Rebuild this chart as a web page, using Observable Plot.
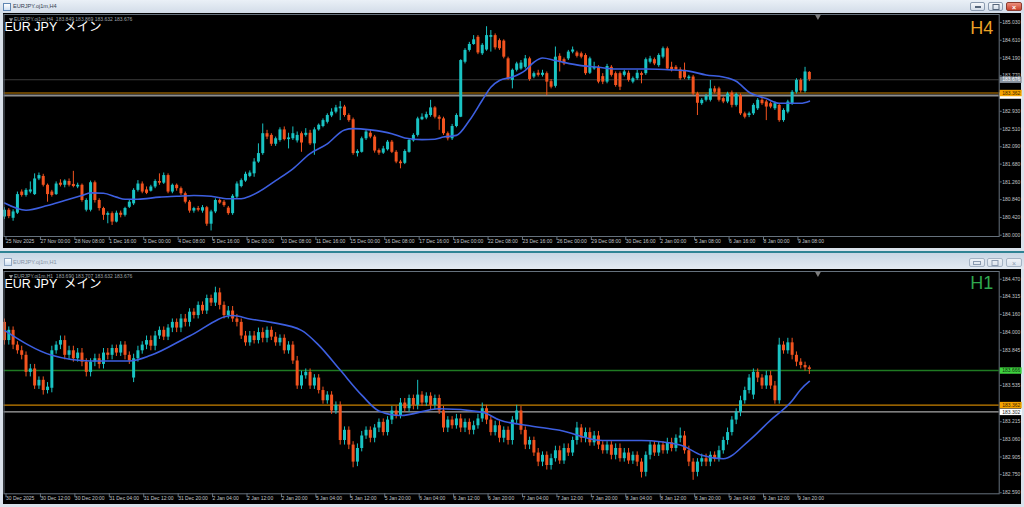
<!DOCTYPE html>
<html><head><meta charset="utf-8">
<script src="https://cdn.jsdelivr.net/npm/d3@7"></script>
<script src="https://cdn.jsdelivr.net/npm/@observablehq/plot@0.6"></script>
<style>
html,body{margin:0;padding:0;}
body{width:1024px;height:507px;overflow:hidden;background:#d9e1ea;position:relative;font-family:"Liberation Sans",Arial,sans-serif;}
.bar{position:absolute;left:0;width:1024px;}
#tb1{top:0;height:13px;background:linear-gradient(#eaf0f7,#d2dce8);}
#tb2{top:253px;height:16px;background:linear-gradient(#c9d6e4,#e3eaf2);}
#sep{position:absolute;left:0;top:251px;width:1024px;height:1.5px;background:#2f8394;}
.ttl{position:absolute;font-family:"Liberation Sans",Arial,sans-serif;font-size:5.6px;white-space:nowrap;}
.ico{position:absolute;width:6px;height:6px;border:1px solid #5f86b3;background:linear-gradient(#ffffff,#cfe0f3);}
.btn{position:absolute;height:9px;box-sizing:border-box;border:1px solid #8b9bb0;border-radius:2px;background:linear-gradient(#f6f8fb,#d3dde9);}
.btn.cl{background:linear-gradient(#ec8f7e,#c9412c);border-color:#8b3b2f;}
.btn.in{border-color:#a5b3c4;background:linear-gradient(#eef2f7,#dae2ec);}
.glyph{position:absolute;left:50%;top:50%;transform:translate(-50%,-50%);}
#c1{position:absolute;left:3px;top:13px;}
#c2{position:absolute;left:3px;top:269px;}
</style></head><body>
<div id="tb1" class="bar">
  <div class="ico" style="left:3px;top:3px;"></div>
  <div class="ttl" style="left:13px;top:3px;color:#34414f;">EURJPY.oj1m,H4</div>
  <div class="btn" style="left:970px;top:2px;width:15px;"><div class="glyph" style="width:6px;height:2px;background:#55657a;"></div></div>
  <div class="btn" style="left:988px;top:2px;width:15px;"><div class="glyph" style="width:5px;height:4px;border:1px solid #55657a;"></div></div>
  <div class="btn cl" style="left:1006px;top:2px;width:16px;"><div class="glyph" style="color:#fff;font-size:7px;font-weight:bold;line-height:7px;">×</div></div>
</div>
<div id="sep"></div>
<div id="tb2" class="bar">
  <div class="ico" style="left:4px;top:5px;border-color:#8fa6c2;"></div>
  <div class="ttl" style="left:13px;top:6px;color:#8593a5;">EURJPY.oj1m,H1</div>
  <div class="btn in" style="left:969px;top:5px;width:16px;"><div class="glyph" style="width:6px;height:2px;border:1px solid #8b9bb0;"></div></div>
  <div class="btn in" style="left:987px;top:5px;width:16px;"><div class="glyph" style="width:5px;height:4px;border:1px solid #8b9bb0;"></div></div>
  <div class="btn in" style="left:1006px;top:5px;width:16px;"><div class="glyph" style="color:#8b9bb0;font-size:7px;line-height:7px;">×</div></div>
</div>
<div id="c1"></div>
<div id="c2"></div>
<script>
// ---------------- DATA ----------------
const h4TimeLabels = ["25 Nov 2025","27 Nov 00:00","28 Nov 08:00","1 Dec 16:00","3 Dec 00:00","4 Dec 08:00","5 Dec 16:00","9 Dec 00:00","10 Dec 08:00","11 Dec 16:00","15 Dec 00:00","16 Dec 08:00","17 Dec 16:00","19 Dec 00:00","22 Dec 08:00","23 Dec 16:00","26 Dec 00:00","29 Dec 08:00","30 Dec 16:00","2 Jan 00:00","5 Jan 08:00","6 Jan 16:00","8 Jan 00:00","9 Jan 08:00"];
const h1TimeLabels = ["30 Dec 2025","30 Dec 12:00","30 Dec 20:00","31 Dec 04:00","31 Dec 12:00","31 Dec 20:00","2 Jan 04:00","2 Jan 12:00","2 Jan 20:00","5 Jan 04:00","5 Jan 12:00","5 Jan 20:00","6 Jan 04:00","6 Jan 12:00","6 Jan 20:00","7 Jan 04:00","7 Jan 12:00","7 Jan 20:00","8 Jan 04:00","8 Jan 12:00","8 Jan 20:00","9 Jan 04:00","9 Jan 12:00","9 Jan 20:00"];
const timeLabelBars = [0,8,16,24,32,40,48,56,64,72,80,88,96,104,112,120,128,136,144,152,160,168,176,184];

const h4PriceTicks = [185.030,184.610,184.190,183.770,182.930,182.510,182.090,181.680,181.260,180.840,180.420,180.000];
const h1PriceTicks = [184.470,184.315,184.160,184.000,183.845,183.535,183.215,183.060,182.905,182.750,182.590];

const h4Header = "EURJPY.oj1m,H4  183.849 183.869 183.632 183.676";
const h1Header = "EURJPY.oj1m,H1  183.690 183.707 183.632 183.676";
const chartTitle = "EUR JPY  メイン";

// levels: bid line, orange line, white line (and green line on H1)
const h4Bid = 183.676, orangeLevel = 183.362, whiteLevel = 183.302, h1GreenLevel = 183.666;
const shiftBar = 189;

// H4 candles [open, high, low, close]
const h4OHLC = [
[180.43,180.65,180.37,180.59],[180.59,180.63,180.39,180.44],[180.40,180.60,180.33,180.55],[180.52,181.02,180.49,180.96],
[181.02,181.07,180.90,180.94],[180.94,181.10,180.90,181.06],[181.02,181.26,180.98,181.07],[180.96,181.45,180.94,181.33],
[181.33,181.47,181.29,181.41],[181.39,181.44,181.14,181.18],[181.18,181.21,180.78,180.96],[181.02,181.06,180.90,180.94],
[180.96,181.26,180.94,181.21],[181.23,181.31,181.14,181.18],[181.18,181.31,181.12,181.28],[181.27,181.33,181.14,181.18],
[181.20,181.51,181.12,181.15],[181.14,181.23,181.10,181.18],[181.18,181.21,180.78,180.82],[180.59,180.86,180.55,180.82],
[180.59,181.28,180.55,181.24],[181.24,181.28,180.76,180.82],[180.82,180.86,180.57,180.63],[180.63,180.66,180.35,180.47],
[180.47,180.55,180.27,180.51],[180.51,180.55,180.23,180.31],[180.31,180.57,180.29,180.52],[180.52,180.57,180.41,180.47],
[180.47,180.66,180.43,180.63],[180.66,180.82,180.63,180.78],[180.74,181.10,180.70,181.06],[181.06,181.29,181.02,181.21],
[181.21,181.26,180.98,181.02],[181.07,181.14,180.96,180.99],[181.04,181.18,181.02,181.14],[181.14,181.31,181.10,181.27],
[181.27,181.45,181.18,181.23],[181.23,181.47,181.20,181.41],[181.41,181.45,180.98,181.02],[181.02,181.21,180.98,181.18],
[181.18,181.21,181.04,181.10],[181.10,181.14,180.94,180.98],[180.98,181.02,180.74,180.78],[180.78,180.82,180.52,180.57],
[180.57,180.66,180.52,180.63],[180.63,180.68,180.55,180.59],[180.57,180.70,180.52,180.65],[180.65,180.68,180.21,180.26],
[180.26,180.59,180.10,180.55],[180.55,180.86,180.51,180.82],[180.82,180.86,180.73,180.76],[180.78,180.82,180.66,180.70],
[180.64,180.68,180.47,180.51],[180.51,180.96,180.47,180.92],[180.90,181.26,180.86,181.21],[181.15,181.33,181.12,181.29],
[181.28,181.49,181.25,181.44],[181.39,181.52,181.36,181.47],[181.45,181.81,181.37,181.73],[181.73,182.16,181.70,181.93],
[181.93,182.63,181.89,182.40],[182.40,182.48,182.26,182.32],[182.36,182.40,182.10,182.15],[182.15,182.32,182.10,182.28],
[182.24,182.54,182.20,182.49],[182.49,182.56,182.23,182.26],[182.26,182.41,182.04,182.30],[182.28,182.56,182.24,182.40],
[182.23,182.44,182.18,182.36],[182.40,182.44,181.96,182.18],[182.36,182.52,182.32,182.41],[182.41,182.48,182.12,182.16],
[182.16,182.54,181.89,182.49],[182.49,182.63,182.46,182.60],[182.57,182.75,182.54,182.71],[182.67,182.87,182.63,182.83],
[182.82,182.99,182.78,182.91],[182.91,183.07,182.87,183.01],[182.99,183.16,182.71,183.03],[183.03,183.07,182.79,182.83],
[182.83,182.87,182.67,182.71],[182.73,182.77,181.89,181.93],[181.93,182.02,181.85,181.98],[181.96,182.32,181.94,182.28],
[182.28,182.49,182.24,182.44],[182.41,182.48,182.28,182.32],[182.32,182.36,181.94,181.99],[182.00,182.04,181.89,181.94],
[181.94,182.10,181.91,182.04],[182.02,182.24,181.99,182.20],[182.20,182.24,181.93,181.96],[181.96,182.00,181.69,181.73],
[181.73,181.77,181.57,181.69],[181.70,182.02,181.67,181.98],[181.96,182.28,181.94,182.24],[182.23,182.40,182.20,182.36],
[182.36,182.79,182.32,182.75],[182.73,182.87,182.71,182.79],[182.77,182.91,182.73,182.85],[182.83,183.19,182.79,183.01],
[183.01,183.04,182.75,182.79],[182.79,182.83,182.48,182.74],[182.75,182.79,182.36,182.40],[182.40,182.44,182.23,182.28],
[182.28,182.62,182.24,182.57],[182.57,182.87,182.54,182.83],[182.79,184.15,182.78,184.13],[184.09,184.41,184.05,184.37],
[184.37,184.56,184.33,184.51],[184.51,184.72,184.49,184.62],[184.68,184.72,184.27,184.31],[184.29,184.53,184.25,184.49],
[184.38,184.93,184.35,184.72],[184.68,184.84,184.33,184.72],[184.72,184.76,184.38,184.43],[184.60,184.64,184.37,184.41],
[184.59,184.62,184.17,184.21],[184.17,184.21,183.66,183.70],[183.66,183.93,183.46,183.90],[183.90,184.09,183.86,184.05],
[183.93,184.13,183.90,184.07],[183.97,184.25,183.93,184.17],[184.17,184.21,183.64,183.68],[183.74,183.86,183.70,183.82],
[183.83,183.90,183.74,183.78],[183.78,183.90,183.74,183.83],[183.82,183.86,183.30,183.62],[183.63,183.68,183.46,183.50],
[183.52,184.45,183.48,184.21],[184.23,184.29,183.86,184.09],[184.15,184.19,184.01,184.05],[184.17,184.37,184.13,184.33],
[184.33,184.45,184.29,184.38],[184.31,184.35,184.19,184.23],[184.29,184.33,184.17,184.21],[184.25,184.29,183.78,183.82],
[183.83,184.21,183.80,184.17],[183.93,184.09,183.90,183.97],[183.97,184.01,183.58,183.62],[183.75,183.82,183.56,183.62],
[183.62,184.04,183.58,183.99],[183.97,184.01,183.74,183.78],[183.82,183.86,183.50,183.54],[183.82,183.86,183.42,183.50],
[183.78,183.90,183.74,183.86],[183.83,183.88,183.62,183.66],[183.62,183.74,183.58,183.70],[183.70,183.90,183.66,183.83],
[183.82,183.86,183.58,183.78],[183.82,184.19,183.78,184.15],[184.09,184.23,184.05,184.17],[184.15,184.19,184.01,184.05],
[184.01,184.29,183.97,184.25],[184.21,184.45,184.17,184.41],[184.41,184.45,183.90,183.93],[183.97,184.09,183.86,183.90],
[183.97,184.01,183.88,183.91],[183.91,183.96,183.66,183.70],[183.90,184.07,183.68,183.72],[183.70,183.78,183.66,183.74],
[183.74,183.78,183.30,183.34],[183.34,183.38,182.83,183.12],[183.11,183.23,183.07,183.19],[183.19,183.33,183.15,183.28],
[183.19,183.66,183.15,183.46],[183.46,183.52,183.34,183.38],[183.46,183.50,183.15,183.19],[183.23,183.27,183.11,183.15],
[183.15,183.38,183.11,183.34],[183.36,183.41,183.01,183.07],[183.07,183.36,183.03,183.33],[183.30,183.34,182.83,182.87],
[182.87,182.91,182.75,182.79],[182.83,182.91,182.78,182.87],[182.87,183.11,182.83,183.07],[182.99,183.23,182.95,183.19],
[183.19,183.23,183.07,183.11],[183.15,183.19,182.71,183.03],[183.11,183.15,182.99,183.03],[182.99,183.15,182.95,183.11],
[183.07,183.11,182.67,182.71],[182.71,182.99,182.67,182.95],[182.91,183.19,182.87,183.15],[183.11,183.42,183.07,183.38],
[183.38,183.70,183.34,183.66],[183.66,183.70,183.36,183.41],[183.40,183.97,183.36,183.86],[183.849,183.869,183.632,183.676]
];

// H4 moving average, read at these bar positions
const h4MaBars = [0,5,10,14,18,20,23,26,28,31,36,40,44,48,52,55,57,59,63,67,71,75,79,81,85,90,93,97,100,102,105,108,111,113,115,118,121,123,125,128,134,138,142,149,155,159,163,167,170,173,177,180,183,185,187];
const h4MaVals = [180.76,180.59,180.70,180.82,180.94,181.00,180.99,180.90,180.85,180.85,180.90,180.92,180.94,180.92,180.86,180.86,180.92,181.02,181.29,181.57,181.93,182.16,182.49,182.52,182.49,182.40,182.30,182.26,182.27,182.32,182.36,182.71,183.19,183.50,183.66,183.74,183.90,184.09,184.19,184.13,184.01,183.97,183.93,183.93,183.91,183.88,183.79,183.74,183.64,183.38,183.23,183.12,183.12,183.12,183.17];

// H1 candles [open, high, low, close]
const h1OHLC = [
[184.09,184.12,183.89,183.93],[183.93,184.05,183.89,184.02],[184.02,184.05,183.85,183.89],[183.89,183.92,183.81,183.84],
[183.84,183.88,183.76,183.80],[183.80,183.83,183.61,183.65],[183.65,183.72,183.61,183.68],[183.68,183.72,183.50,183.53],
[183.53,183.61,183.50,183.58],[183.58,183.61,183.45,183.49],[183.49,183.56,183.46,183.52],[183.51,183.88,183.47,183.84],
[183.84,183.92,183.81,183.89],[183.89,183.97,183.85,183.93],[183.93,183.97,183.76,183.80],[183.80,183.88,183.76,183.84],
[183.84,183.88,183.74,183.77],[183.77,183.86,183.74,183.82],[183.82,183.86,183.70,183.74],[183.74,183.77,183.61,183.65],
[183.65,183.77,183.61,183.74],[183.74,183.81,183.70,183.77],[183.77,183.81,183.68,183.72],[183.72,183.86,183.68,183.82],
[183.82,183.86,183.76,183.80],[183.80,183.89,183.76,183.86],[183.86,183.89,183.79,183.82],[183.82,183.92,183.79,183.89],
[183.89,183.92,183.76,183.80],[183.80,183.83,183.72,183.75],[183.60,183.81,183.56,183.77],[183.77,183.88,183.74,183.84],
[183.84,183.92,183.81,183.89],[183.89,183.97,183.85,183.93],[183.93,183.97,183.84,183.88],[183.88,184.01,183.84,183.97],
[183.97,184.05,183.94,184.02],[184.02,184.05,183.93,183.96],[183.96,184.07,183.93,184.04],[184.04,184.12,184.00,184.09],
[184.09,184.12,184.00,184.04],[184.04,184.16,184.00,184.12],[184.12,184.16,184.05,184.09],[184.09,184.21,184.05,184.18],
[184.18,184.21,184.12,184.15],[184.15,184.27,184.12,184.24],[184.24,184.27,184.16,184.19],[184.19,184.33,184.16,184.30],
[184.30,184.33,184.23,184.26],[184.26,184.40,184.23,184.35],[184.35,184.39,184.20,184.24],[184.24,184.27,184.12,184.15],
[184.15,184.23,184.12,184.19],[184.19,184.23,184.09,184.12],[184.12,184.16,184.05,184.09],[184.09,184.12,183.94,183.97],
[183.97,184.01,183.88,183.91],[183.91,184.01,183.88,183.97],[183.97,184.01,183.90,183.93],[183.93,184.04,183.90,184.00],
[184.00,184.04,183.91,183.95],[183.95,184.05,183.91,184.02],[184.02,184.05,183.93,183.96],[183.96,184.00,183.88,183.91],
[183.91,183.98,183.88,183.95],[183.95,183.98,183.81,183.84],[183.84,183.92,183.81,183.89],[183.89,183.92,183.72,183.75],
[183.75,183.79,183.50,183.53],[183.53,183.66,183.50,183.62],[183.62,183.68,183.59,183.65],[183.65,183.68,183.50,183.53],
[183.53,183.63,183.50,183.60],[183.60,183.63,183.46,183.49],[183.49,183.52,183.37,183.40],[183.40,183.48,183.37,183.45],
[183.45,183.48,183.28,183.31],[183.31,183.39,183.28,183.36],[183.36,183.39,183.01,183.05],[183.05,183.17,183.01,183.14],
[183.14,183.17,182.97,183.01],[183.01,183.04,182.81,182.86],[182.86,183.02,182.82,182.98],[182.98,183.13,182.95,183.09],
[183.09,183.17,183.06,183.14],[183.14,183.17,183.03,183.07],[183.07,183.19,183.03,183.16],[183.16,183.24,183.12,183.21],
[183.21,183.24,183.09,183.12],[183.12,183.26,183.09,183.23],[183.23,183.35,183.19,183.31],[183.31,183.35,183.24,183.27],
[183.27,183.42,183.24,183.38],[183.38,183.42,183.30,183.33],[183.33,183.45,183.30,183.42],[183.42,183.45,183.32,183.36],
[183.36,183.58,183.32,183.45],[183.45,183.48,183.35,183.38],[183.38,183.47,183.35,183.44],[183.44,183.47,183.32,183.36],
[183.36,183.45,183.32,183.42],[183.42,183.45,183.28,183.31],[183.31,183.35,183.12,183.16],[183.16,183.26,183.12,183.23],
[183.23,183.26,183.15,183.18],[183.18,183.28,183.15,183.24],[183.24,183.28,183.12,183.16],[183.16,183.24,183.12,183.21],
[183.21,183.24,183.10,183.14],[183.14,183.22,183.10,183.18],[183.18,183.28,183.15,183.24],[183.24,183.38,183.21,183.33],
[183.33,183.36,183.19,183.23],[183.23,183.26,183.09,183.12],[183.12,183.22,183.09,183.18],[183.18,183.22,183.03,183.07],
[183.07,183.17,183.03,183.14],[183.14,183.17,183.01,183.05],[183.05,183.26,183.01,183.23],[183.23,183.36,183.19,183.31],
[183.31,183.35,183.10,183.14],[183.14,183.17,182.97,183.01],[183.01,183.08,182.97,183.05],[183.05,183.08,182.91,182.94],
[182.94,182.98,182.82,182.86],[182.86,182.95,182.82,182.92],[182.92,182.95,182.79,182.83],[182.83,182.93,182.79,182.89],
[182.89,183.00,182.86,182.96],[182.96,183.00,182.84,182.87],[182.87,183.02,182.84,182.98],[182.98,183.02,182.91,182.94],
[182.94,183.08,182.91,183.05],[183.05,183.21,183.01,183.16],[183.16,183.19,183.03,183.07],[183.07,183.16,183.03,183.12],
[183.12,183.16,183.00,183.03],[183.03,183.13,183.00,183.09],[183.09,183.13,182.97,183.01],[183.01,183.04,182.93,182.96],
[182.96,183.04,182.93,183.01],[183.01,183.04,182.88,182.92],[182.92,183.02,182.88,182.98],[182.98,183.02,182.86,182.89],
[182.89,182.98,182.86,182.94],[182.94,182.98,182.84,182.87],[182.87,182.95,182.84,182.92],[182.92,182.95,182.82,182.86],
[182.86,182.89,182.72,182.77],[182.77,182.95,182.73,182.92],[182.92,183.04,182.88,183.01],[183.01,183.04,182.91,182.94],
[182.94,183.04,182.91,183.01],[183.01,183.04,182.93,182.96],[182.96,183.07,182.93,183.03],[183.03,183.07,182.95,182.98],
[182.98,183.10,182.95,183.07],[183.07,183.16,183.03,183.09],[183.09,183.13,182.93,182.96],[182.96,183.00,182.82,182.86],
[182.86,182.89,182.70,182.77],[182.77,182.89,182.73,182.86],[182.86,182.93,182.82,182.89],[182.89,182.93,182.82,182.86],
[182.86,182.95,182.82,182.92],[182.92,182.95,182.86,182.89],[182.89,183.00,182.86,182.96],[182.96,183.08,182.93,183.05],
[183.05,183.16,183.01,183.12],[183.12,183.26,183.09,183.23],[183.23,183.33,183.19,183.30],[183.30,183.44,183.26,183.40],
[183.40,183.52,183.37,183.49],[183.49,183.63,183.46,183.60],[183.45,183.68,183.41,183.65],[183.65,183.68,183.56,183.60],
[183.60,183.63,183.50,183.53],[183.53,183.66,183.50,183.62],[183.62,183.66,183.50,183.53],[183.53,183.57,183.37,183.40],
[183.40,183.95,183.37,183.89],[183.89,183.92,183.81,183.84],[183.84,183.95,183.81,183.91],[183.91,183.95,183.76,183.80],
[183.80,183.83,183.70,183.74],[183.74,183.77,183.68,183.71],[183.71,183.74,183.66,183.69],[183.690,183.707,183.632,183.676]
];

const h1MaBars = [0,11,20,29,34,43,53,57,62,69,73,78,83,87,92,101,111,115,122,129,139,148,157,162,167,173,178,183,185,187];
const h1MaVals = [184.02,183.80,183.75,183.75,183.80,183.97,184.15,184.12,184.09,184.02,183.89,183.67,183.45,183.31,183.27,183.33,183.30,183.23,183.18,183.14,183.05,183.05,183.01,182.92,182.89,183.05,183.23,183.40,183.50,183.57];

// ---------------- STYLE ----------------
const BULL = "#19c3c3", BEAR = "#f2531f", MA_COLOR = "#3d5fe0";
const AXIS_TEXT = "#c2c6ca", AXIS_LINE = "#66717c";
const SMALL = '"Liberation Sans",Arial,sans-serif';
const TITLE_FONT = '"Liberation Sans",Arial,"Noto Sans CJK JP",sans-serif';
const fmt3 = d3.format(".3f");

function boxSymbol(w, h) { return {draw(ctx) { ctx.rect(0.5, -h / 2, w, h); }}; }
const BOX = boxSymbol(22, 6.4);

function candleMarks(bars) {
  const d = bars.map(([o, h, l, c], i) => ({i, o, h, l, c}));
  const up = d.filter(b => b.c >= b.o), dn = d.filter(b => b.c < b.o);
  return [
    Plot.ruleX(up, {x: "i", y1: "l", y2: "h", stroke: BULL, strokeWidth: 1}),
    Plot.ruleX(dn, {x: "i", y1: "l", y2: "h", stroke: BEAR, strokeWidth: 1}),
    Plot.ruleX(up, {x: "i", y1: "o", y2: "c", stroke: BULL, strokeWidth: 3}),
    Plot.ruleX(dn, {x: "i", y1: "o", y2: "c", stroke: BEAR, strokeWidth: 3})
  ];
}
function priceBox(value, bg, fg, withText = true) {
  const marks = [Plot.dot([value], {y: d => d, frameAnchor: "right", symbol: BOX, r: 3, fill: bg, stroke: null})];
  if (withText) marks.push(Plot.text([value], {y: d => d, text: d => fmt3(d), frameAnchor: "right", dx: 3, textAnchor: "start", fill: fg, fontSize: 5, fontFamily: SMALL}));
  return marks;
}
function timeAxis(labels) {
  return Plot.axisX(timeLabelBars, {anchor: "bottom", tickSize: 4, tickPadding: -1,
    tickFormat: d => labels[timeLabelBars.indexOf(d)], textAnchor: "start", dx: 1.5,
    fill: AXIS_TEXT, stroke: AXIS_LINE, fontSize: 5, fontFamily: SMALL});
}
function priceAxis(ticks) {
  return Plot.axisY(ticks, {anchor: "right", tickSize: 2, tickPadding: 1, tickFormat: fmt3,
    fill: AXIS_TEXT, stroke: AXIS_LINE, fontSize: 5, fontFamily: SMALL});
}
function headerMarks(header, tf, tfColor, o) {
  return [
    Plot.dot([0], {frameAnchor: "top-left", dx: 7, dy: o.hdr + 1.8, symbol: "triangle", rotate: 180, r: 1.6, fill: "#8c8c8c"}),
    Plot.text([header], {text: d => d, frameAnchor: "top-left", dx: 10, dy: o.hdr, textAnchor: "start", fontSize: 5, fill: "#9ea3a8", fontFamily: SMALL}),
    Plot.text([chartTitle], {text: d => d, frameAnchor: "top-left", dx: 0.5, dy: o.title, textAnchor: "start", fontSize: 12.5, fill: "#ffffff", fontFamily: TITLE_FONT}),
    Plot.text([tf], {text: d => d, frameAnchor: "top-right", dx: -6, dy: o.tf, textAnchor: "end", fontSize: 18, fill: tfColor, fontFamily: SMALL}),
    Plot.dot([shiftBar], {x: d => d, frameAnchor: "top", dy: 2, symbol: "triangle", rotate: 180, r: 2.2, fill: "#7d7d7d"})
  ];
}
const baseStyle = {background: "#000", color: AXIS_TEXT, fontFamily: SMALL, fontSize: "5px", overflow: "visible"};

// ---------------- H4 ----------------
const h4Ma = h4MaBars.map((b, k) => ({b, v: h4MaVals[k]}));
const chart1 = Plot.plot({
  width: 1018, height: 235,
  marginLeft: 0.5, marginRight: 22.3, marginTop: 1, marginBottom: 12,
  x: {domain: [-0.116, 231.11]},
  y: {domain: [179.969, 185.219]},
  style: baseStyle,
  marks: [
    Plot.ruleY([h4Bid], {stroke: "#3b3b3b", strokeWidth: 1}),
    Plot.ruleY([whiteLevel], {stroke: "#8e8e8e", strokeWidth: 2}),
    Plot.ruleY([orangeLevel], {stroke: "#c98200", strokeWidth: 1.2}),
    ...candleMarks(h4OHLC),
    Plot.line(h4Ma, {x: "b", y: "v", stroke: MA_COLOR, strokeWidth: 1.6, curve: "monotone-x"}),
    Plot.frame({stroke: AXIS_LINE}),
    timeAxis(h4TimeLabels),
    priceAxis(h4PriceTicks),
    ...priceBox(h4Bid, "#8a949f", "#ffffff"),
    ...priceBox(whiteLevel, "#ffffff", "#222", false),
    ...priceBox(orangeLevel, "#f5a300", "#3a2500"),
    ...headerMarks(h4Header, "H4", "#eba326", {hdr: 3.2, title: 8, tf: 6.7})
  ]
});
document.getElementById("c1").appendChild(chart1);

// ---------------- H1 ----------------
const h1Ma = h1MaBars.map((b, k) => ({b, v: h1MaVals[k]}));
const chart2 = Plot.plot({
  width: 1018, height: 235,
  marginLeft: 0.5, marginRight: 22.3, marginTop: 2, marginBottom: 10.7,
  x: {domain: [-0.116, 231.11]},
  y: {domain: [182.581, 184.538]},
  style: baseStyle,
  marks: [
    Plot.ruleY([whiteLevel], {stroke: "#cfcfcf", strokeWidth: 1}),
    Plot.ruleY([orangeLevel], {stroke: "#c98200", strokeWidth: 1.2}),
    Plot.ruleY([h1GreenLevel], {stroke: "#1f7a22", strokeWidth: 1.6}),
    ...candleMarks(h1OHLC),
    Plot.line(h1Ma, {x: "b", y: "v", stroke: MA_COLOR, strokeWidth: 1.6, curve: "monotone-x"}),
    Plot.frame({stroke: AXIS_LINE}),
    timeAxis(h1TimeLabels),
    priceAxis(h1PriceTicks),
    ...priceBox(h1GreenLevel, "#3fd23f", "#0c2a0c"),
    ...priceBox(orangeLevel, "#f5a300", "#3a2500"),
    ...priceBox(whiteLevel, "#ffffff", "#222"),
    ...headerMarks(h1Header, "H1", "#2fa84f", {hdr: 2.9, title: 7.7, tf: 5})
  ]
});
document.getElementById("c2").appendChild(chart2);
</script>
</body></html>
